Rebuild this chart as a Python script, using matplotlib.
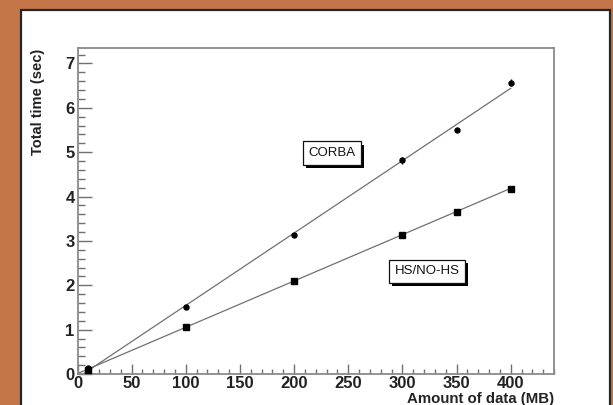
import numpy as np
import matplotlib

matplotlib.use("Agg")
import matplotlib.pyplot as plt
import matplotlib.patheffects as pe
from matplotlib.patches import Rectangle

# data
data_mb = [10, 100, 200, 300, 350, 400]
corba_sec = [0.13, 1.52, 3.14, 4.82, 5.50, 6.56]
corba_err = [0.02, 0.03, 0.03, 0.08, 0.03, 0.08]
hs_sec = [0.10, 1.07, 2.10, 3.14, 3.66, 4.18]
hs_err = [0.02, 0.02, 0.03, 0.04, 0.02, 0.03]

xticks = [0, 50, 100, 150, 200, 250, 300, 350, 400]
yticks = [0, 1, 2, 3, 4, 5, 6, 7]

plt.rcParams["font.family"] = ["Liberation Sans", "DejaVu Sans"]
plt.rcParams["font.weight"] = "bold"

fig = plt.figure(figsize=(6.13, 4.05), dpi=100, facecolor="#c57649")

# white pad with dark edge (ROOT canvas), kept behind the axes
W, H = 613, 405
fig.patches.append(Rectangle((21 / W, -0.05), (610 - 21) / W, 1.05 - 10 / H,
                             transform=fig.transFigure, facecolor="white",
                             edgecolor="#262626", linewidth=1.6, zorder=-5))

ax = fig.add_axes([77.5 / W, 1 - 374 / H, (554 - 77.5) / W, (374 - 48.3) / H])
ax.set_zorder(2)
ax.set_facecolor("white")

x = np.array(data_mb, dtype=float)
xx = np.linspace(0, 400, 50)
for y in (corba_sec, hs_sec):
    k, b = np.polyfit(x, y, 1)
    ax.plot(xx, k * xx + b, color="#707070", lw=0.9, zorder=2)

ax.errorbar(data_mb, corba_sec, yerr=corba_err, fmt="o", ms=3.6, color="black",
            ecolor="black", elinewidth=1.0, capsize=0, zorder=3)
ax.errorbar(data_mb, hs_sec, yerr=hs_err, fmt="s", ms=4.2, color="black",
            ecolor="black", elinewidth=1.0, capsize=0, zorder=3)

ax.set_xlim(0, 440)
ax.set_ylim(0, 7.34)
ax.set_xticks(xticks)
ax.set_yticks(yticks)
ax.set_xticks(np.arange(0, 441, 10), minor=True)
ax.set_yticks(np.arange(0, 7.3, 0.2), minor=True)

for s in ax.spines.values():
    s.set_color("#8a8a8a")
    s.set_linewidth(1.3)

ax.tick_params(axis="both", which="both", direction="in", color="#707070",
               width=1.0, top=False, right=False, labelsize=12, labelcolor="#222222")
ax.tick_params(axis="y", which="major", length=10, pad=2)
ax.tick_params(axis="y", which="minor", length=5)
ax.tick_params(axis="x", which="major", length=7.5, pad=1.5)
ax.tick_params(axis="x", which="minor", length=3.8)

ax.set_ylabel("Total time (sec)", fontsize=10.5, fontweight="bold", color="#222222", loc="top")
ax.yaxis.set_label_coords(-0.068, 1.0)
ax.set_xlabel("Amount of data (MB)", fontsize=10.8, fontweight="bold", color="#222222", loc="right")
ax.xaxis.set_label_coords(1.0, -0.054)

for label, lx, ly in (("CORBA", 235, 4.98), ("HS/NO-HS", 323, 2.32)):
    t = ax.text(lx, ly, label, fontsize=9.5, fontweight="normal", ha="center", va="center",
                color="#111111",
                bbox=dict(boxstyle="square,pad=0.42", facecolor="white",
                          edgecolor="#111111", linewidth=0.9), zorder=5)
    t.get_bbox_patch().set_path_effects([
        pe.SimplePatchShadow(offset=(2.2, -2.2), shadow_rgbFace="black", alpha=1.0),
        pe.Normal(),
    ])

fig.savefig("out.png", dpi=100, facecolor=fig.get_facecolor())
